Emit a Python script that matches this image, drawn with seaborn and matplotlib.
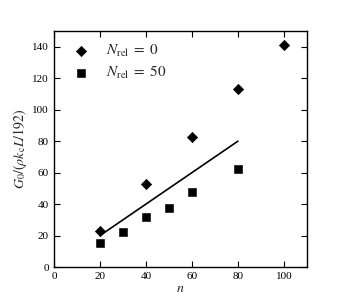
import matplotlib
matplotlib.use("Agg")
import matplotlib.pyplot as plt
import seaborn as sns
import pandas as pd

n_rel0 = [20, 40, 60, 80, 100]
g_rel0 = [23, 53, 82.5, 113, 141]
n_rel50 = [20, 30, 40, 50, 60, 80]
g_rel50 = [15.5, 22.5, 32, 37.5, 48, 62.5]
fit_n = [20, 80]
fit_g = [20, 80]

sns.set_theme(style="ticks")
plt.rcParams['font.family'] = ['Liberation Serif', 'DejaVu Serif']
plt.rcParams['mathtext.fontset'] = 'stix'

fig = plt.figure(figsize=(3.41, 3.07), dpi=100)
ax = fig.add_axes([0.158, 0.130, 0.742, 0.769])

df0 = pd.DataFrame({"n": n_rel0, "g": g_rel0})
df50 = pd.DataFrame({"n": n_rel50, "g": g_rel50})
dfl = pd.DataFrame({"n": fit_n, "g": fit_g})

sns.scatterplot(data=df0, x="n", y="g", marker="D", s=28, color="black",
                edgecolor="black", ax=ax, label=r"$N_{\mathrm{rel}}\;=\;0$", zorder=3)
sns.scatterplot(data=df50, x="n", y="g", marker="s", s=28, color="black",
                edgecolor="black", ax=ax, label=r"$N_{\mathrm{rel}}\;=\;50$", zorder=3)
sns.lineplot(data=dfl, x="n", y="g", color="black", lw=1.2, ax=ax)

ax.set_xlim(0, 110)
ax.set_ylim(0, 150)
ax.set_xticks([0, 20, 40, 60, 80, 100])
ax.set_yticks([0, 20, 40, 60, 80, 100, 120, 140])
ax.tick_params(direction="in", top=True, right=True, labelsize=8, length=4, width=0.8, colors="black")
for sp in ax.spines.values():
    sp.set_linewidth(1.0)
    sp.set_color("black")
ax.set_xlabel(r"$n$", fontsize=10, labelpad=1)
ax.set_ylabel(r"$G_0/(\rho k_{\mathrm{c}}L/192)$", fontsize=10, labelpad=2)
leg = ax.legend(loc="upper left", frameon=False, fontsize=11, handletextpad=0.7,
                borderaxespad=0.4, labelspacing=0.3, handlelength=1.9)

fig.savefig("out.png", dpi=100)
